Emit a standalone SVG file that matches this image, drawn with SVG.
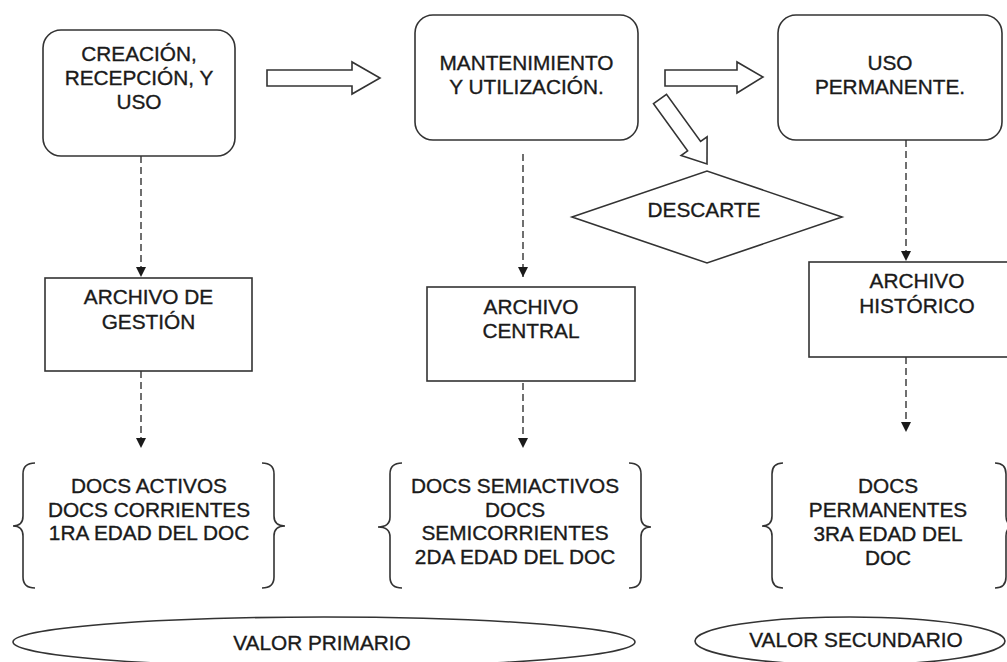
<svg xmlns="http://www.w3.org/2000/svg" width="1007" height="662" viewBox="0 0 1007 662">
<defs>
<style>
.box{fill:#fff;stroke:#333;stroke-width:1.6}
.t{font-family:"Liberation Sans",Arial,sans-serif;font-size:20.8px;fill:#1a1a1a;stroke:#1a1a1a;stroke-width:0.35;text-anchor:middle}
.dash{fill:none;stroke:#333;stroke-width:1.4;stroke-dasharray:7,4}
.blk{fill:#fff;stroke:#333;stroke-width:1.6;stroke-linejoin:miter}
.brace{fill:none;stroke:#333;stroke-width:1.6}
</style>
<marker id="ah" viewBox="0 0 10 10" refX="10" refY="5" markerWidth="10" markerHeight="10" markerUnits="userSpaceOnUse" orient="auto">
<path d="M0,0 L10,5 L0,10 Z" fill="#1a1a1a"/>
</marker>
</defs>
<rect width="1007" height="662" fill="#fff"/>

<g id="connectors">
<path class="dash" d="M141,156 V277" marker-end="url(#ah)"/>
<path class="dash" d="M141,371 V448" marker-end="url(#ah)"/>
<path class="dash" d="M523,154 V277" marker-end="url(#ah)"/>
<path class="dash" d="M523,372 V448" marker-end="url(#ah)"/>
<path class="dash" d="M906,140 V261" marker-end="url(#ah)"/>
<path class="dash" d="M906,357 V432" marker-end="url(#ah)"/>
<polygon class="blk" points="267,70 352,70 352,62 380,78 352,94 352,86 267,86"/>
<polygon class="blk" points="665,70 737,70 737,62 763,77 737,93 737,86 665,86"/>
<polygon class="blk" points="653.5,103.7 666.5,94.3 700.6,141.5 707.1,136.8 707,164 681.1,155.6 687.6,150.9"/>
</g>

<g id="n-creacion">
<rect class="box" x="43" y="30" width="192" height="126" rx="18"/>
<text class="t" x="139" y="60.5">CREACIÓN,</text>
<text class="t" x="139" y="84.5">RECEPCIÓN, Y</text>
<text class="t" x="139" y="108.5">USO</text>
</g>

<g id="n-mantenimiento">
<rect class="box" x="415" y="15" width="223" height="125" rx="18"/>
<text class="t" x="526.5" y="70">MANTENIMIENTO</text>
<text class="t" x="526.5" y="93.5">Y UTILIZACIÓN.</text>
</g>

<g id="n-uso">
<rect class="box" x="778" y="15" width="224" height="125" rx="18"/>
<text class="t" x="890" y="70">USO</text>
<text class="t" x="890" y="94">PERMANENTE.</text>
</g>

<g id="n-descarte">
<polygon class="box" points="572,217 707,171 842,217 707,263"/>
<text class="t" x="704" y="217">DESCARTE</text>
</g>

<g id="n-gestion">
<rect class="box" x="45" y="278" width="207" height="93"/>
<text class="t" x="148.5" y="304">ARCHIVO DE</text>
<text class="t" x="148.5" y="328.5">GESTIÓN</text>
</g>

<g id="n-central">
<rect class="box" x="427" y="287" width="208" height="94"/>
<text class="t" x="531" y="313.5">ARCHIVO</text>
<text class="t" x="531" y="338">CENTRAL</text>
</g>

<g id="n-historico">
<rect class="box" x="809" y="262" width="216" height="95"/>
<text class="t" x="917" y="288">ARCHIVO</text>
<text class="t" x="917" y="313">HISTÓRICO</text>
</g>

<g id="n-docs1">
<path class="brace" d="M35,463 Q23,463 23,474 V516 Q23,526 13,526 Q23,526 23,536 V577 Q23,588 35,588"/>
<path class="brace" d="M262,463 Q274,463 274,474 V516 Q274,526 285,526 Q274,526 274,536 V577 Q274,588 262,588"/>
<text class="t" x="149" y="493">DOCS ACTIVOS</text>
<text class="t" x="149" y="516.5">DOCS CORRIENTES</text>
<text class="t" x="149" y="540">1RA EDAD DEL DOC</text>
</g>

<g id="n-docs2">
<path class="brace" d="M402,463 Q390,463 390,474 V517 Q390,527 378,527 Q390,527 390,537 V577 Q390,588 402,588"/>
<path class="brace" d="M629,463 Q641,463 641,474 V517 Q641,527 651,527 Q641,527 641,537 V577 Q641,588 629,588"/>
<text class="t" x="515" y="493">DOCS SEMIACTIVOS</text>
<text class="t" x="515" y="516.5">DOCS</text>
<text class="t" x="515" y="540">SEMICORRIENTES</text>
<text class="t" x="515" y="564">2DA EDAD DEL DOC</text>
</g>

<g id="n-docs3">
<path class="brace" d="M783,463 Q772,463 772,474 V516 Q772,526 762,526 Q772,526 772,536 V577 Q772,588 783,588"/>
<path class="brace" d="M995,463 Q1006,463 1006,474 V516 Q1006,526 1016,526 Q1006,526 1006,536 V577 Q1006,588 995,588"/>
<text class="t" x="888" y="493">DOCS</text>
<text class="t" x="888" y="517">PERMANENTES</text>
<text class="t" x="888" y="541">3RA EDAD DEL</text>
<text class="t" x="888" y="565">DOC</text>
</g>

<g id="n-primario">
<ellipse class="box" cx="324" cy="642" rx="311" ry="25"/>
<text class="t" x="322" y="650">VALOR PRIMARIO</text>
</g>

<g id="n-secundario">
<ellipse class="box" cx="850" cy="641" rx="155" ry="24"/>
<text class="t" x="856" y="647">VALOR SECUNDARIO</text>
</g>
</svg>
